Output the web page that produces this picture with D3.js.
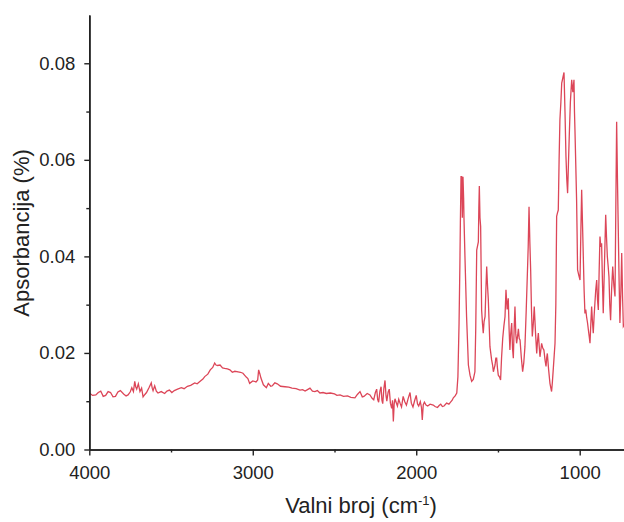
<!DOCTYPE html>
<html>
<head>
<meta charset="utf-8">
<script src="https://cdn.jsdelivr.net/npm/d3@7/dist/d3.min.js"></script>
<style>
  html, body { margin: 0; padding: 0; background: #fff; }
  svg { display: block; }
  text { font-family: "Liberation Sans", Arial, sans-serif; fill: #222; }
</style>
</head>
<body>
<svg id="chart" width="624" height="522"></svg>
<script>
// ---- data ----
const wavenumber = [
  4000, 3980, 3960, 3945, 3930, 3915, 3900, 3885, 3870, 3855, 3840, 3825, 3810, 3790, 3775, 3763,
  3750, 3740, 3730, 3722, 3716, 3710, 3700, 3690, 3680, 3671, 3660, 3650, 3635, 3621, 3615, 3610,
  3600, 3590, 3580, 3560, 3539, 3525, 3510, 3495, 3480, 3460, 3437, 3420, 3400, 3380, 3355, 3340,
  3320, 3305, 3294, 3275, 3260, 3245, 3233, 3225, 3215, 3200, 3185, 3172, 3155, 3140, 3125, 3110,
  3090, 3075, 3060, 3040, 3030, 3019, 3000, 2980, 2970, 2964, 2957, 2950, 2935, 2917,
  2905, 2890, 2880, 2865, 2850, 2830, 2803, 2780, 2760, 2735, 2711, 2695, 2680, 2665, 2650, 2635,
  2620, 2605, 2589, 2570, 2550, 2525, 2500, 2485, 2466, 2445, 2420, 2400, 2375, 2360, 2344, 2330,
  2320, 2300, 2283, 2270, 2260, 2250, 2242, 2236, 2230, 2222, 2215, 2210, 2205, 2198, 2191, 2185,
  2180, 2172, 2165, 2158, 2150, 2145, 2140, 2135, 2130, 2122, 2115, 2107, 2099, 2090, 2080, 2070,
  2060, 2050, 2038, 2030, 2020, 2010, 2000, 1992, 1985, 1975, 1968, 1963, 1957, 1950, 1940, 1930,
  1915, 1896, 1885, 1870, 1860, 1850, 1840, 1830, 1814, 1800, 1790, 1780, 1773, 1762, 1752,
  1745, 1738, 1733, 1730, 1726, 1722, 1718, 1714, 1710, 1708, 1702, 1692, 1681, 1671, 1661, 1651,
  1641, 1636, 1630, 1620, 1617, 1614, 1610, 1606, 1600, 1595, 1590, 1585, 1579, 1574, 1569, 1564,
  1559, 1549, 1539, 1533, 1528, 1518, 1513, 1508, 1503, 1498, 1490, 1484, 1478, 1471, 1464, 1457,
  1451, 1444, 1437, 1432, 1427, 1422, 1416, 1411, 1406, 1401, 1396, 1391, 1386, 1380, 1375, 1370,
  1365, 1357, 1349, 1342, 1335, 1327, 1320, 1315, 1310, 1305, 1300, 1295, 1290, 1284, 1278, 1270,
  1263, 1258, 1253, 1248, 1243, 1238, 1233, 1226, 1219, 1212, 1206, 1202, 1198, 1190, 1182, 1177,
  1172, 1167, 1162, 1156, 1151, 1146, 1141, 1136, 1131, 1126, 1121, 1115, 1110, 1103, 1096, 1090,
  1084, 1079, 1074, 1069, 1064, 1057, 1049, 1042, 1035, 1032, 1029, 1024, 1019, 1016, 1013, 1005,
  998, 993, 988, 983, 978, 973, 968, 963, 958, 952, 947, 942, 937, 932, 927, 922,
  917, 912, 907, 902, 896, 891, 886, 881, 876, 871, 866, 861, 856, 848, 841, 836,
  831, 826, 821, 816, 811, 805, 798, 791, 784, 779, 774, 769, 764, 759, 754, 748,
  743, 738, 733, 725
];
const absorbance = [
  0.0117, 0.0112, 0.0113, 0.0118, 0.0121, 0.0110, 0.0112, 0.0120, 0.0118, 0.0109, 0.0110, 0.0119, 0.0122, 0.0115, 0.0111, 0.0113,
  0.0119, 0.0128, 0.0120, 0.0141, 0.0130, 0.0125, 0.0136, 0.0120, 0.0127, 0.0109, 0.0114, 0.0118, 0.0128, 0.0138, 0.0127, 0.0122,
  0.0132, 0.0121, 0.0117, 0.0120, 0.0116, 0.0121, 0.0123, 0.0118, 0.0122, 0.0125, 0.0128, 0.0126, 0.0131, 0.0133, 0.0138, 0.0136,
  0.0142, 0.0146, 0.0151, 0.0156, 0.0165, 0.0170, 0.0179, 0.0175, 0.0174, 0.0175, 0.0169, 0.0168, 0.0167, 0.0165, 0.0160, 0.0162,
  0.0161, 0.0160, 0.0158, 0.0150, 0.0147, 0.0137, 0.0142, 0.0140, 0.0144, 0.0165, 0.0157, 0.0148, 0.0134, 0.0128,
  0.0137, 0.0131, 0.0132, 0.0138, 0.0136, 0.0131, 0.0130, 0.0129, 0.0127, 0.0126, 0.0123, 0.0124, 0.0121, 0.0124, 0.0127, 0.0121,
  0.0120, 0.0122, 0.0117, 0.0118, 0.0116, 0.0117, 0.0115, 0.0112, 0.0113, 0.0110, 0.0111, 0.0108, 0.0107, 0.0114, 0.0120, 0.0109,
  0.0110, 0.0116, 0.0113, 0.0106, 0.0103, 0.0118, 0.0125, 0.0104, 0.0098, 0.0121, 0.0130, 0.0102, 0.0095, 0.0126, 0.0143, 0.0112,
  0.0100, 0.0119, 0.0125, 0.0096, 0.0085, 0.0102, 0.0058, 0.0094, 0.0105, 0.0097, 0.0090, 0.0104, 0.0096, 0.0088, 0.0110, 0.0099,
  0.0092, 0.0105, 0.0118, 0.0096, 0.0088, 0.0101, 0.0112, 0.0094, 0.0090, 0.0099, 0.0087, 0.0061, 0.0093, 0.0098, 0.0092, 0.0090,
  0.0094, 0.0092, 0.0089, 0.0087, 0.0091, 0.0094, 0.0089, 0.0090, 0.0096, 0.0094, 0.0098, 0.0102, 0.0107, 0.0111, 0.0117,
  0.0151, 0.0262, 0.0380, 0.0470, 0.0565, 0.0565, 0.0480, 0.0565, 0.0520, 0.0480, 0.0400, 0.0275, 0.0175, 0.0154, 0.0141, 0.0145,
  0.0161, 0.0250, 0.0413, 0.0430, 0.0500, 0.0546, 0.0480, 0.0462, 0.0289, 0.0262, 0.0241, 0.0265, 0.0275, 0.0330, 0.0379, 0.0340,
  0.0310, 0.0213, 0.0186, 0.0175, 0.0161, 0.0175, 0.0189, 0.0189, 0.0168, 0.0154, 0.0150, 0.0144, 0.0190, 0.0230, 0.0255, 0.0275,
  0.0331, 0.0290, 0.0313, 0.0250, 0.0206, 0.0240, 0.0262, 0.0210, 0.0189, 0.0250, 0.0296, 0.0240, 0.0220, 0.0235, 0.0250, 0.0230,
  0.0227, 0.0190, 0.0161, 0.0180, 0.0213, 0.0290, 0.0365, 0.0420, 0.0503, 0.0430, 0.0372, 0.0290, 0.0234, 0.0260, 0.0296, 0.0240,
  0.0199, 0.0225, 0.0241, 0.0215, 0.0192, 0.0205, 0.0220, 0.0210, 0.0206, 0.0185, 0.0172, 0.0190, 0.0199, 0.0165, 0.0137, 0.0128,
  0.0120, 0.0140, 0.0165, 0.0195, 0.0220, 0.0300, 0.0483, 0.0490, 0.0496, 0.0600, 0.0683, 0.0720, 0.0759, 0.0770, 0.0781, 0.0700,
  0.0607, 0.0560, 0.0531, 0.0590, 0.0648, 0.0720, 0.0766, 0.0740, 0.0766, 0.0700, 0.0662, 0.0590, 0.0517, 0.0450, 0.0372, 0.0360,
  0.0351, 0.0450, 0.0538, 0.0470, 0.0400, 0.0330, 0.0282, 0.0290, 0.0275, 0.0262, 0.0248, 0.0235, 0.0220, 0.0260, 0.0296, 0.0265,
  0.0241, 0.0275, 0.0303, 0.0330, 0.0351, 0.0310, 0.0289, 0.0370, 0.0441, 0.0420, 0.0427, 0.0350, 0.0282, 0.0390, 0.0486, 0.0440,
  0.0400, 0.0380, 0.0358, 0.0300, 0.0268, 0.0330, 0.0379, 0.0340, 0.0317, 0.0500, 0.0679, 0.0560, 0.0455, 0.0350, 0.0262, 0.0330,
  0.0407, 0.0320, 0.0255, 0.0260
];
const xMajorTicks = [4000, 3000, 2000, 1000];
const xMinorTicks = [3500, 2500, 1500];
const yMajorTicks = [0, 0.02, 0.04, 0.06, 0.08];
const yMinorTicks = [0.01, 0.03, 0.05, 0.07];
const xDomain = [4000, 729];
const yDomain = [0, 0.09];
const xTitle = "Valni broj (cm";
const xTitleSup = "-1";
const yTitle = "Apsorbancija (%)";

// ---- layout ----
const plotLeft = 89.3, plotRight = 624, plotTop = 15, plotBottom = 449.5;
const svg = d3.select("#chart");

const x = d3.scaleLinear().domain(xDomain).range([plotLeft, plotRight]);
const y = d3.scaleLinear().domain(yDomain).range([plotBottom, plotTop]);

const n = Math.min(wavenumber.length, absorbance.length);
const points = wavenumber.slice(0, n).map((w, i) => [w, absorbance[i]]);

svg.append("defs").append("clipPath").attr("id", "clip")
  .append("rect").attr("x", plotLeft).attr("y", 0).attr("width", plotRight - plotLeft).attr("height", plotBottom);

svg.append("path")
  .datum(points)
  .attr("clip-path", "url(#clip)")
  .attr("fill", "none")
  .attr("stroke", "#dc4658")
  .attr("stroke-width", 1.3)
  .attr("d", d3.line().x(d => x(d[0])).y(d => y(d[1])));

// axes
const axisColor = "#222";
svg.append("g").attr("transform", `translate(0,${plotBottom})`)
  .call(d3.axisBottom(x).tickValues(xMajorTicks).tickSize(6).tickSizeOuter(0).tickPadding(10).tickFormat(d3.format("d")));
svg.append("g").attr("transform", `translate(0,${plotBottom})`)
  .call(d3.axisBottom(x).tickValues(xMinorTicks).tickSize(3).tickSizeOuter(0).tickFormat(""));
svg.append("g").attr("transform", `translate(${plotLeft},0)`)
  .call(d3.axisLeft(y).tickValues(yMajorTicks).tickSize(5).tickSizeOuter(0).tickPadding(9).tickFormat(d3.format(".2f")));
svg.append("g").attr("transform", `translate(${plotLeft},0)`)
  .call(d3.axisLeft(y).tickValues(yMinorTicks).tickSize(3).tickSizeOuter(0).tickFormat(""));

svg.selectAll(".domain").attr("stroke", axisColor).attr("stroke-width", 1.6);
svg.selectAll(".tick line").attr("stroke", axisColor).attr("stroke-width", 1.4);
svg.selectAll(".tick text")
  .style("font-family", '"Liberation Sans", Arial, sans-serif')
  .style("font-size", "18.5px")
  .attr("fill", "#222");

// titles
const xt = svg.append("text")
  .attr("x", 361).attr("y", 513)
  .attr("text-anchor", "middle")
  .style("font-size", "22px");
xt.append("tspan").text(xTitle);
xt.append("tspan").attr("dy", -8).style("font-size", "13px").text(xTitleSup);
xt.append("tspan").attr("dy", 8).text(")");

svg.append("text")
  .attr("transform", "translate(29,233) rotate(-90)")
  .attr("text-anchor", "middle")
  .style("font-size", "22px")
  .text(yTitle);
</script>
</body>
</html>
